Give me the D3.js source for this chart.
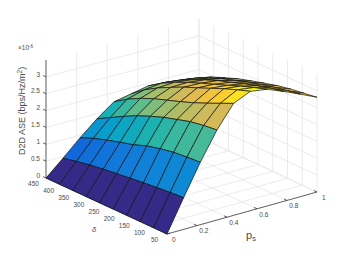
<!DOCTYPE html>
<html>
<head>
<meta charset="utf-8">
<script src="https://cdn.jsdelivr.net/npm/d3@7"></script>
<style>
	html, body { margin: 0; padding: 0; background: #fff; }
	svg { display: block; }
	text { font-family: "Liberation Sans", Arial, sans-serif; }
</style>
</head>
<body>
<div id="container"></div>
<script>
"use strict";

const deltaValues = [50, 94.4, 138.9, 183.3, 227.8, 272.2, 316.7, 361.1, 405.6, 450];
const psValues = [0, 0.111, 0.222, 0.333, 0.444, 0.556, 0.667, 0.778, 0.889, 1];
// D2D ASE in 1e-6 units, one row per ps, delta ascending
const ase = [
	[0, 0, 0, 0, 0, 0, 0, 0, 0, 0],
	[0.94, 0.91, 0.87, 0.83, 0.78, 0.73, 0.68, 0.62, 0.54, 0.45],
	[1.85, 1.82, 1.78, 1.7, 1.6, 1.45, 1.34, 1.22, 1.09, 0.92],
	[2.67, 2.62, 2.55, 2.43, 2.31, 2.16, 1.99, 1.79, 1.57, 1.35],
	[3.32, 3.14, 2.96, 2.79, 2.64, 2.5, 2.36, 2.19, 1.98, 1.72],
	[3.54, 3.4, 3.25, 3.08, 2.91, 2.75, 2.56, 2.36, 2.12, 1.82],
	[3.46, 3.33, 3.19, 3.03, 2.88, 2.73, 2.57, 2.39, 2.18, 1.92],
	[3.26, 3.17, 3.06, 2.94, 2.8, 2.67, 2.51, 2.33, 2.13, 1.89],
	[3.04, 2.96, 2.88, 2.78, 2.67, 2.54, 2.41, 2.24, 2.06, 1.83],
	[2.81, 2.75, 2.69, 2.61, 2.5, 2.39, 2.27, 2.12, 1.96, 1.75],
];

const deltaTicks = [50, 100, 150, 200, 250, 300, 350, 400, 450];
const psTicks = [0, 0.2, 0.4, 0.6, 0.8, 1];
const zTicks = [0, 0.5, 1, 1.5, 2, 2.5, 3];
const zTickLabels = ["0", "0.5", "1", "1.5", "2", "2.5", "3"];
const psTickLabels = ["0", "0.2", "0.4", "0.6", "0.8", "1"];

// parula
const parulaStops = ["#352a87", "#0f5cdd", "#127dd8", "#079ccf", "#15b1b4", "#59bd8c", "#a5be6b", "#e1b952", "#fccd2e", "#f9fb0e"];
const zMin = 0;
const zMax = d3.max(ase, (r) => d3.max(r));
const color = d3
	.scaleLinear()
	.domain(parulaStops.map((d, i) => zMin + ((zMax - zMin) * i) / (parulaStops.length - 1)))
	.range(parulaStops);

const width = 350;
const height = 263;

// floor corners of the axes box on screen
const cornerA = [46, 178]; // delta 450, ps 0
const cornerB = [167, 234]; // delta 50, ps 0
const cornerC = [317, 192]; // delta 50, ps 1
const cornerD = [199, 137]; // delta 450, ps 1

const u = d3.scaleLinear().domain([0, 1]).range([0, 1]); // ps
const v = d3.scaleLinear().domain([450, 50]).range([0, 1]); // delta
const zPx = d3.scaleLinear().domain([0, 3.5]).range([0, 118]);

// bilinear on the floor, z straight up
function project(delta, ps, z) {
	const a = u(ps);
	const b = v(delta);
	const lerp = (i) =>
		cornerA[i] * (1 - a) * (1 - b) +
		cornerB[i] * (1 - a) * b +
		cornerC[i] * a * b +
		cornerD[i] * a * (1 - b);
	return [lerp(0), lerp(1) - zPx(z || 0)];
}

const svg = d3
	.select("#container")
	.append("svg")
	.attr("width", width)
	.attr("height", height);

const line = d3.line();
const layerGrid = svg.append("g").attr("fill", "none").attr("stroke", "#e6e6e6").attr("stroke-width", 0.8);
const layerAxes = svg.append("g").attr("fill", "none").attr("stroke", "#262626").attr("stroke-width", 0.7);
const layerSurface = svg.append("g").attr("stroke", "#111").attr("stroke-width", 0.7).attr("stroke-linejoin", "round");
const layerText = svg.append("g").attr("fill", "#4a4a4a").attr("font-size", 6.5);

function seg(layer, p, q) {
	layer.append("path").attr("d", line([p, q]));
}

// grid: back walls and floor
psTicks.forEach((p) => {
	seg(layerGrid, project(450, p, 0), project(450, p, 3.5));
	seg(layerGrid, project(450, p, 0), project(50, p, 0));
});
deltaTicks.forEach((d) => {
	seg(layerGrid, project(d, 1, 0), project(d, 1, 3.5));
	seg(layerGrid, project(d, 0, 0), project(d, 1, 0));
});
zTicks.forEach((z) => {
	seg(layerGrid, project(450, 0, z), project(450, 1, z));
	seg(layerGrid, project(450, 1, z), project(50, 1, z));
});

// axes
seg(layerAxes, project(450, 0, 0), project(450, 0, 3.5));
seg(layerAxes, project(450, 0, 0), project(50, 0, 0));
seg(layerAxes, project(50, 0, 0), project(50, 1, 0));
zTicks.forEach((z, i) => {
	const p = project(450, 0, z);
	seg(layerAxes, p, [p[0] - 3, p[1] - 1.4]);
	layerText.append("text").attr("x", p[0] - 6).attr("y", p[1] - 0.3).attr("text-anchor", "end").text(zTickLabels[i]);
});
deltaTicks.forEach((d) => {
	const p = project(d, 0, 0);
	seg(layerAxes, p, [p[0] + 3, p[1] - 0.9]);
	layerText.append("text").attr("x", p[0] - 12.5).attr("y", p[1] + 7.8).attr("text-anchor", "middle").text(d);
});
psTicks.forEach((s, i) => {
	const p = project(50, s, 0);
	seg(layerAxes, p, [p[0] - 3, p[1] - 1.4]);
	layerText.append("text").attr("x", p[0] + 6.8).attr("y", p[1] + 7.8).attr("text-anchor", "middle").text(psTickLabels[i]);
});

// surface, far cells first, each cell coloured by its lowest index corner
for (let i = psValues.length - 2; i >= 0; i--) {
	for (let j = deltaValues.length - 2; j >= 0; j--) {
		const cell = [
			project(deltaValues[j], psValues[i], ase[i][j]),
			project(deltaValues[j + 1], psValues[i], ase[i][j + 1]),
			project(deltaValues[j + 1], psValues[i + 1], ase[i + 1][j + 1]),
			project(deltaValues[j], psValues[i + 1], ase[i + 1][j]),
		];
		layerSurface
			.append("path")
			.attr("d", line(cell) + "Z")
			.attr("fill", color(ase[i][j]));
	}
}

// labels
const zLabel = layerText
	.append("text")
	.attr("transform", "translate(25,155) rotate(-90)")
	.attr("font-size", 9);
zLabel.append("tspan").text("D2D ASE (bps/Hz/m");
zLabel.append("tspan").attr("font-size", 6.5).attr("dy", -3.5).text("2");
zLabel.append("tspan").attr("dy", 3.5).text(")");

const expo = layerText.append("text").attr("x", 18).attr("y", 50).attr("font-size", 6.5);
expo.append("tspan").text("×10");
expo.append("tspan").attr("font-size", 4.5).attr("dy", -2.5).text("-6");

const psLabel = layerText.append("text").attr("x", 246).attr("y", 238.5).attr("font-size", 11);
psLabel.append("tspan").text("p");
psLabel.append("tspan").attr("font-size", 7.5).attr("dy", 2.5).text("s");

layerText
	.append("text")
	.attr("x", 94)
	.attr("y", 232)
	.attr("text-anchor", "middle")
	.attr("font-style", "italic")
	.attr("font-size", 7.5)
	.text("δ");
</script>
</body>
</html>
